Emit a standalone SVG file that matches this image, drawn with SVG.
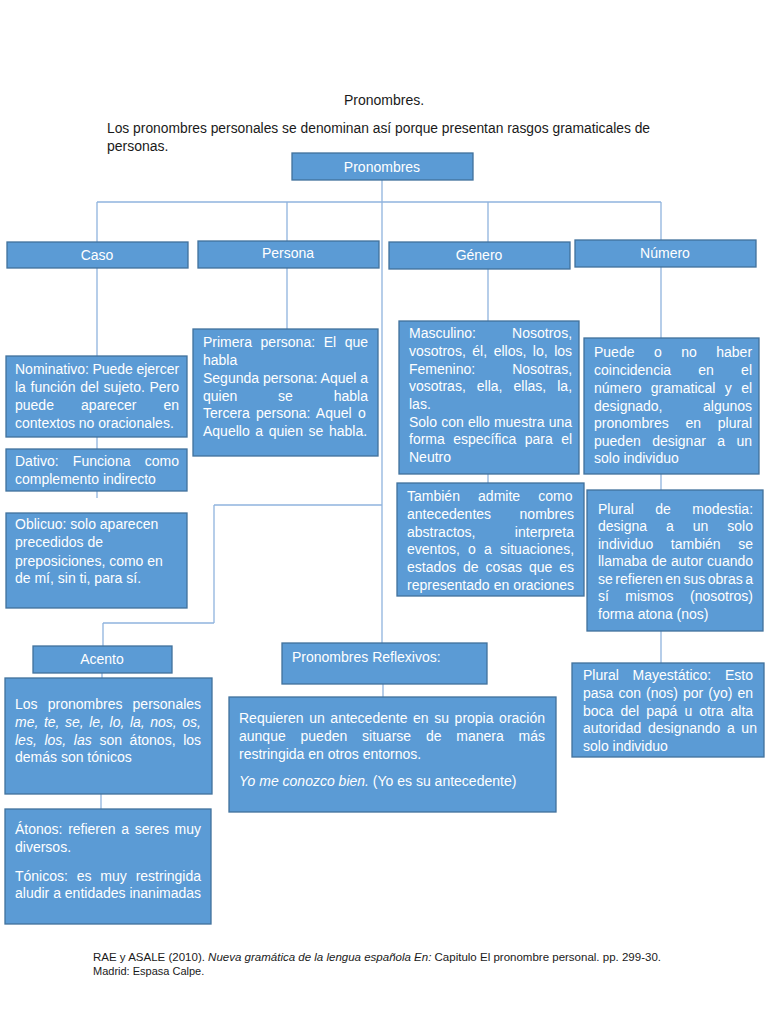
<svg xmlns="http://www.w3.org/2000/svg" width="768" height="1024" viewBox="0 0 768 1024">
<style>
.bg{fill:#ffffff}
.box{fill:#5B9BD5;stroke:#41719C;stroke-width:1.3}
.t{font-family:"Liberation Sans",Arial,sans-serif;font-size:14px;fill:#ffffff}
.h{font-family:"Liberation Sans",Arial,sans-serif;font-size:14px;fill:#ffffff;text-anchor:middle}
.k{font-family:"Liberation Sans",Arial,sans-serif;fill:#1a1a1a}
.i{font-style:italic}
.conn line{stroke:#8FB3DE;stroke-width:1.3;fill:none}
</style>
<rect class="bg" x="0" y="0" width="768" height="1024"/>
<text class="k" x="384" y="105" font-size="14" text-anchor="middle">Pronombres.</text>
<text class="k" x="107" y="133" font-size="14" textLength="543" lengthAdjust="spacingAndGlyphs">Los pronombres personales se denominan así porque presentan rasgos gramaticales de</text>
<text class="k" x="107" y="151" font-size="14">personas.</text>

<g class="conn" id="connectors">
<line x1="382" y1="180" x2="382" y2="643"/>
<line x1="97" y1="202" x2="661" y2="202"/>
<line x1="97" y1="202" x2="97" y2="242"/>
<line x1="287" y1="202" x2="287" y2="241"/>
<line x1="488" y1="202" x2="488" y2="242"/>
<line x1="661" y1="202" x2="661" y2="240"/>
<line x1="97" y1="268" x2="97" y2="356"/>
<line x1="97" y1="437" x2="97" y2="449"/>
<line x1="97" y1="491" x2="97" y2="498"/>
<line x1="287" y1="268" x2="287" y2="329"/>
<line x1="488" y1="269" x2="488" y2="321"/>
<line x1="488" y1="474" x2="488" y2="483"/>
<line x1="661" y1="267" x2="661" y2="338"/>
<line x1="661" y1="474" x2="661" y2="490"/>
<line x1="661" y1="631" x2="661" y2="663"/>
<line x1="214" y1="505" x2="382" y2="505"/>
<line x1="214" y1="505" x2="214" y2="623"/>
<line x1="103" y1="623" x2="214" y2="623"/>
<line x1="103" y1="623" x2="103" y2="646"/>
<line x1="102" y1="673" x2="102" y2="678"/>
<line x1="101" y1="794" x2="101" y2="809"/>
<line x1="383" y1="684" x2="383" y2="697"/>
</g>

<g id="n-pronombres">
<rect class="box" x="292" y="153" width="181" height="27"/>
<text class="h" x="382" y="172" font-size="15">Pronombres</text>
</g>
<g id="n-caso">
<rect class="box" x="7" y="242" width="181" height="26"/>
<text class="h" x="97" y="260">Caso</text>
</g>
<g id="n-persona">
<rect class="box" x="198" y="241" width="181" height="27"/>
<text class="h" x="288" y="258">Persona</text>
</g>
<g id="n-genero">
<rect class="box" x="389" y="242" width="181" height="27"/>
<text class="h" x="479" y="260">Género</text>
</g>
<g id="n-numero">
<rect class="box" x="575" y="240" width="181" height="27"/>
<text class="h" x="665" y="258">Número</text>
</g>

<g id="n-nominativo">
<rect class="box" x="6" y="356" width="181" height="81"/>
<text class="t" x="15" y="374" word-spacing="-0.4">Nominativo: Puede ejercer</text>
<text class="t" x="15" y="392" word-spacing="0.73">la función del sujeto. Pero</text>
<text class="t" x="15" y="410" word-spacing="23.26">puede aparecer en</text>
<text class="t" x="15" y="428">contextos no oracionales.</text>
</g>
<g id="n-dativo">
<rect class="box" x="6" y="449" width="181" height="42"/>
<text class="t" x="15" y="466" word-spacing="10.4">Dativo: Funciona como</text>
<text class="t" x="15" y="484">complemento indirecto</text>
</g>
<g id="n-oblicuo">
<rect class="box" x="6" y="513" width="181" height="95"/>
<text class="t" x="15" y="529">Oblicuo: solo aparecen</text>
<text class="t" x="15" y="547">precedidos de</text>
<text class="t" x="15" y="566">preposiciones, como en</text>
<text class="t" x="15" y="583">de mí, sin ti, para sí.</text>
</g>

<g id="n-personas">
<rect class="box" x="193" y="329" width="185" height="127"/>
<text class="t" x="203" y="347" word-spacing="4.68">Primera persona: El que</text>
<text class="t" x="203" y="365">habla</text>
<text class="t" x="203" y="383">Segunda persona: Aquel a</text>
<text class="t" x="203" y="401" word-spacing="36.97">quien se habla</text>
<text class="t" x="203" y="418" word-spacing="2.34">Tercera persona: Aquel o</text>
<text class="t" x="203" y="436" word-spacing="1.71">Aquello a quien se habla.</text>
</g>

<g id="n-masculino">
<rect class="box" x="399" y="321" width="180" height="153"/>
<text class="t" x="409" y="338" word-spacing="32.3">Masculino: Nosotros,</text>
<text class="t" x="409" y="356" word-spacing="2.63">vosotros, él, ellos, lo, los</text>
<text class="t" x="409" y="374" word-spacing="33.1">Femenino: Nosotras,</text>
<text class="t" x="409" y="391" word-spacing="7.14">vosotras, ella, ellas, la,</text>
<text class="t" x="409" y="409">las.</text>
<text class="t" x="409" y="427" word-spacing="0.29">Solo con ello muestra una</text>
<text class="t" x="409" y="444" word-spacing="4.54">forma específica para el</text>
<text class="t" x="409" y="462">Neutro</text>
</g>

<g id="n-tambien">
<rect class="box" x="397" y="483" width="187" height="113"/>
<text class="t" x="407" y="501" word-spacing="14.26">También admite como</text>
<text class="t" x="407" y="519" word-spacing="24.6">antecedentes nombres</text>
<text class="t" x="407" y="537" word-spacing="35.5">abstractos, interpreta</text>
<text class="t" x="407" y="554" word-spacing="4.31">eventos, o a situaciones,</text>
<text class="t" x="407" y="572" word-spacing="3.04">estados de cosas que es</text>
<text class="t" x="407" y="590" word-spacing="0.25">representado en oraciones</text>
</g>

<g id="n-puede">
<rect class="box" x="584" y="338" width="175" height="136"/>
<text class="t" x="594" y="357" word-spacing="15.58">Puede o no haber</text>
<text class="t" x="594" y="375" word-spacing="23.36">coincidencia en el</text>
<text class="t" x="594" y="393" word-spacing="5.48">número gramatical y el</text>
<text class="t" x="594" y="411" word-spacing="36.6">designado, algunos</text>
<text class="t" x="594" y="428" word-spacing="12.86">pronombres en plural</text>
<text class="t" x="594" y="446" word-spacing="7.54">pueden designar a un</text>
<text class="t" x="594" y="463">solo individuo</text>
</g>

<g id="n-modestia">
<rect class="box" x="587" y="490" width="176" height="141"/>
<text class="t" x="598" y="514" word-spacing="17.6">Plural de modestia:</text>
<text class="t" x="598" y="531" word-spacing="15.08">designa a un solo</text>
<text class="t" x="598" y="549" word-spacing="13.7">individuo también se</text>
<text class="t" x="598" y="566" word-spacing="0.31">llamaba de autor cuando</text>
<text class="t" x="598" y="584" word-spacing="-1.37">se refieren en sus obras a</text>
<text class="t" x="598" y="601" word-spacing="12.56">sí mismos (nosotros)</text>
<text class="t" x="598" y="619">forma atona (nos)</text>
</g>

<g id="n-mayestatico">
<rect class="box" x="572" y="663" width="192" height="94"/>
<text class="t" x="583" y="680" word-spacing="9.91">Plural Mayestático: Esto</text>
<text class="t" x="583" y="698" word-spacing="1.17">pasa con (nos) por (yo) en</text>
<text class="t" x="583" y="716" word-spacing="3.19">boca del papá u otra alta</text>
<text class="t" x="583" y="733" word-spacing="2.71">autoridad designando a un</text>
<text class="t" x="583" y="751">solo individuo</text>
</g>

<g id="n-acento">
<rect class="box" x="33" y="646" width="139" height="27"/>
<text class="h" x="102" y="664">Acento</text>
</g>
<g id="n-atonos-tonicos">
<rect class="box" x="5" y="678" width="207" height="116"/>
<text class="t" x="15" y="709" word-spacing="6.26">Los pronombres personales</text>
<text class="t i" x="15" y="727" word-spacing="1.67">me, te, se, le, lo, la, nos, os,</text>
<text class="t" x="15" y="745" word-spacing="3.75"><tspan class="i">les, los, las</tspan> son átonos, los</text>
<text class="t" x="15" y="762">demás son tónicos</text>
</g>
<g id="n-atonos">
<rect class="box" x="5" y="809" width="206" height="115"/>
<text class="t" x="15" y="834" word-spacing="1.76">Átonos: refieren a seres muy</text>
<text class="t" x="15" y="852">diversos.</text>
<text class="t" x="15" y="881" word-spacing="4.94">Tónicos: es muy restringida</text>
<text class="t" x="15" y="898">aludir a entidades inanimadas</text>
</g>

<g id="n-reflexivos">
<rect class="box" x="282" y="643" width="205" height="41"/>
<text class="t" x="292" y="662">Pronombres Reflexivos:</text>
</g>
<g id="n-requieren">
<rect class="box" x="229" y="697" width="327" height="115"/>
<text class="t" x="239" y="723" word-spacing="1.71">Requieren un antecedente en su propia oración</text>
<text class="t" x="239" y="741" word-spacing="10.93">aunque pueden situarse de manera más</text>
<text class="t" x="239" y="759">restringida en otros entornos.</text>
<text class="t" x="239" y="786"><tspan class="i">Yo me conozco bien.</tspan> (Yo es su antecedente)</text>
</g>

<text class="k" x="93" y="961" font-size="11" textLength="568" lengthAdjust="spacingAndGlyphs">RAE y ASALE (2010). <tspan class="i">Nueva gramática de la lengua española En:</tspan> Capitulo El pronombre personal. pp. 299-30.</text>
<text class="k" x="93" y="975" font-size="11">Madrid: Espasa Calpe.</text>
</svg>
